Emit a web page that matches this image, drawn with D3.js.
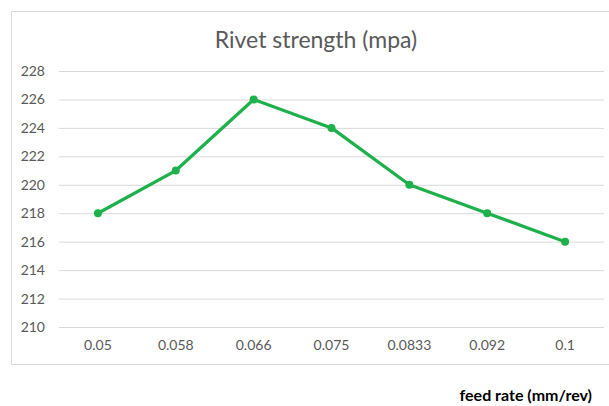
<!DOCTYPE html>
<html><head><meta charset="utf-8">
<script src="https://cdn.jsdelivr.net/npm/d3@7"></script>
<style>body{margin:0;background:#fff}svg{display:block}</style>
</head><body>
<svg id="c" width="609" height="406"></svg>
<script>
const categories = ["0.05","0.058","0.066","0.075","0.0833","0.092","0.1"];
const strength = [218,221,226,224,220,218,216];
const yTicks = [210,212,214,216,218,220,222,224,226,228];
const titleText = "Rivet strength (mpa)";
const xTitle = "feed rate (mm/rev)";

const svg = d3.select("#c");
const font = "Lato, sans-serif";
svg.append("rect").attr("x",11.5).attr("y",11.5).attr("width",620).attr("height",353)
  .attr("fill","#fff").attr("stroke","#d9d9d9");

const x = d3.scaleBand().domain(categories).range([59,604]);
const y = d3.scaleLinear().domain([210,228]).range([327,71]);

svg.append("g").selectAll("line").data(yTicks).join("line")
  .attr("x1",59).attr("x2",604).attr("y1",d=>y(d)+0.5).attr("y2",d=>y(d)+0.5)
  .attr("stroke","#d9d9d9").attr("stroke-width",1);

const yAxis = svg.append("g").attr("transform","translate(59,0)")
  .call(d3.axisLeft(y).tickValues(yTicks).tickSize(0).tickPadding(14));
yAxis.select(".domain").remove();
yAxis.selectAll("text").attr("fill","#595959").style("font-family",font).style("font-size","14px");

const xAxis = svg.append("g").attr("transform","translate(0,327)")
  .call(d3.axisBottom(x).tickSize(0).tickPadding(13));
xAxis.select(".domain").remove();
xAxis.selectAll("text").attr("fill","#595959").style("font-family",font).style("font-size","14px");

const line = d3.line().x((d,i)=>x(categories[i])+x.bandwidth()/2).y(d=>y(d));
svg.append("path").datum(strength).attr("d",line).attr("fill","none")
  .attr("stroke","#1db04b").attr("stroke-width",3.2).attr("stroke-linejoin","round");
svg.selectAll("circle.pt").data(strength).join("circle")
  .attr("cx",(d,i)=>x(categories[i])+x.bandwidth()/2).attr("cy",d=>y(d)).attr("r",4)
  .attr("fill","#1db04b");

svg.append("text").attr("x",316).attr("y",48).attr("text-anchor","middle")
  .attr("fill","#595959").style("font-family",font).style("font-size","23px").text(titleText);
svg.append("text").attr("x",592).attr("y",401).attr("text-anchor","end")
  .attr("fill","#000").style("font-family",font).style("font-size","16px").style("font-weight","bold").text(xTitle);
</script>
</body></html>
